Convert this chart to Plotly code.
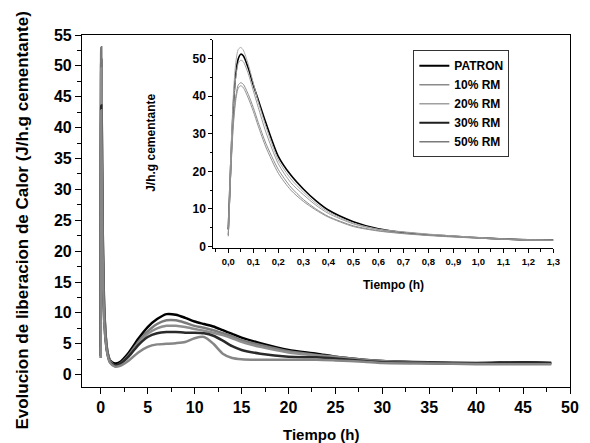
import plotly.graph_objects as go

# ---------------- data ----------------
series_names = ["PATRON", "10% RM", "20% RM", "30% RM", "50% RM"]

# main plot: time (h)
t_main = [0, 0.05, 0.2, 0.4, 0.7, 1.0, 1.5, 2, 3, 4, 5, 6, 7, 8, 9, 10, 11, 12, 13, 14, 15,
          17, 20, 23, 25, 28, 30, 35, 40, 45, 48]
patron_main = [4.5, 51, 24, 9.7, 3.7, 2.3, 1.8, 2.0, 3.6, 5.8, 7.7, 9.0, 9.8, 9.7, 9.2, 8.6, 8.2, 7.8, 7.2, 6.6, 6.0,
               5.1, 4.0, 3.4, 2.9, 2.4, 2.2, 2.0, 1.9, 2.0, 1.9]
rm10_main = [2.7, 53, 23, 9.2, 3.9, 2.2, 1.5, 1.7, 3.2, 5.3, 7.0, 8.2, 8.8, 8.8, 8.4, 7.9, 7.6, 7.2, 6.7, 6.2, 5.6,
             4.8, 3.8, 3.2, 2.9, 2.4, 2.2, 1.9, 1.8, 1.9, 1.8]
rm20_main = [3.0, 49.6, 22, 8.8, 3.8, 2.1, 1.4, 1.6, 3.0, 5.0, 6.6, 7.5, 7.9, 7.9, 7.7, 7.4, 7.1, 6.8, 6.4, 5.9, 5.3,
             4.5, 3.6, 3.1, 2.8, 2.3, 2.1, 1.9, 1.8, 1.9, 1.8]
rm30_main = [3.0, 43.6, 20.5, 8.0, 3.5, 2.0, 1.5, 1.7, 3.0, 4.8, 6.1, 6.7, 6.9, 6.9, 6.8, 6.8, 6.7, 6.3, 5.5, 4.6, 4.0,
             3.4, 2.9, 2.8, 2.6, 2.2, 2.0, 1.9, 1.8, 2.0, 1.9]
rm50_main = [2.7, 42.8, 19.5, 7.8, 3.4, 1.9, 1.3, 1.4, 2.3, 3.6, 4.5, 4.9, 5.0, 5.1, 5.3, 5.9, 6.1, 5.0, 3.4, 2.7, 2.5,
             2.4, 2.4, 2.4, 2.3, 2.1, 1.9, 1.8, 1.7, 1.7, 1.7]

# inset: first 1.3 h
t_inset = [0, 0.01, 0.02, 0.03, 0.04, 0.05, 0.06, 0.08, 0.1, 0.12, 0.15, 0.2, 0.25, 0.3, 0.35, 0.4,
           0.5, 0.6, 0.7, 0.8, 0.9, 1.0, 1.1, 1.2, 1.3]
patron_inset = [4.5, 22, 37, 46, 50, 51.2, 50.8, 47.5, 43, 39, 33, 24, 19, 15.3, 12.2, 9.7,
                6.6, 4.7, 3.7, 3.1, 2.7, 2.3, 2.0, 1.8, 1.8]
rm10_inset = [3, 24, 40, 49, 52.5, 53, 52.3, 48.5, 43.5, 38.5, 32, 23, 18, 14.5, 11.5, 9.2,
              6.2, 4.6, 3.9, 3.3, 2.8, 2.4, 2.0, 1.8, 1.7]
rm20_inset = [3, 22, 37, 45, 48.8, 49.6, 49.2, 46, 41.5, 37, 30.5, 22, 17, 13.8, 11, 8.8,
              6.0, 4.5, 3.8, 3.2, 2.8, 2.3, 2.0, 1.8, 1.7]
rm30_inset = [3, 20, 33, 40, 43, 43.6, 43.2, 40.5, 37, 33, 27.5, 20.5, 15.8, 12.5, 10, 8,
              5.5, 4.2, 3.5, 3.0, 2.6, 2.2, 1.9, 1.7, 1.6]
rm50_inset = [2.7, 19.5, 32, 39, 42.2, 42.8, 42.3, 39.5, 36, 32, 26.5, 19.5, 15, 12, 9.7, 7.8,
              5.3, 4.1, 3.4, 2.9, 2.5, 2.2, 1.9, 1.7, 1.6]

inset_tick_vals = [0.0, 0.1, 0.2, 0.3, 0.4, 0.5, 0.6, 0.7, 0.8, 0.9, 1.0, 1.1, 1.2, 1.3]
inset_tick_text = ["0,0", "0,1", "0,2", "0,3", "0,4", "0,5", "0,6", "0,7", "0,8", "0.,9",
                   "1,0", "1,1", "1,2", "1,3"]

main_values = [patron_main, rm10_main, rm20_main, rm30_main, rm50_main]
inset_values = [patron_inset, rm10_inset, rm20_inset, rm30_inset, rm50_inset]

# ---------------- styles ----------------
main_colors = ["#000000", "#7a7a7a", "#8e8e8e", "#2a2a2a", "#868686"]
inset_colors = ["#000000", "#a8a8a8", "#9a9a9a", "#8a8a8a", "#909090"]
legend_colors = ["#000000", "#8a8a8a", "#a0a0a0", "#1e1e1e", "#7a7a7a"]
FONT = "Arial, Liberation Sans, sans-serif"

fig = go.Figure()

for name, vals, col in zip(series_names, main_values, main_colors):
    fig.add_trace(go.Scatter(x=t_main, y=vals, mode="lines", name=name, showlegend=False,
                             line=dict(color=col, width=2.5, shape="spline", smoothing=0.7),
                             xaxis="x", yaxis="y"))

for i, (name, vals, col) in enumerate(zip(series_names, inset_values, inset_colors)):
    fig.add_trace(go.Scatter(x=t_inset, y=vals, mode="lines", name=name, showlegend=False,
                             line=dict(color=col, width=1.6 if i == 0 else 1, shape="spline", smoothing=0.7),
                             xaxis="x2", yaxis="y2"))

# legend entries (line samples)
for i, (name, col) in enumerate(zip(series_names, legend_colors)):
    fig.add_trace(go.Scatter(x=[None], y=[None], mode="lines", name=name,
                             line=dict(color=col, width=2 if i in (0, 3) else 1.5),
                             xaxis="x2", yaxis="y2"))

fig.update_layout(
    width=590, height=443,
    margin=dict(l=82, r=11, t=35, b=56),
    paper_bgcolor="white", plot_bgcolor="white",
    font=dict(family=FONT, color="black"),
    showlegend=True,
    legend=dict(x=0.679, y=0.957, xanchor="left", yanchor="top",
                bordercolor="#333333", borderwidth=1, bgcolor="white",
                font=dict(size=12, family=FONT, color="black", weight="bold"),
                itemwidth=30, tracegroupgap=0),
    xaxis=dict(domain=[0, 1], range=[-2, 50], showgrid=False, zeroline=False,
               showline=True, linecolor="black", linewidth=1.2, mirror=True,
               ticks="outside", ticklen=6, tickwidth=1.2, tickcolor="black",
               tickvals=list(range(0, 51, 5)),
               tickfont=dict(size=16, family=FONT, weight="bold"),
               minor=dict(ticks="outside", ticklen=4, tickwidth=1, tickcolor="black", dtick=2.5, tick0=0)),
    yaxis=dict(domain=[0, 1], range=[-2, 55], showgrid=False, zeroline=False,
               showline=True, linecolor="black", linewidth=1.2, mirror=True,
               ticks="outside", ticklen=6, tickwidth=1.2, tickcolor="black",
               tickvals=list(range(0, 56, 5)),
               tickfont=dict(size=16, family=FONT, weight="bold"),
               minor=dict(ticks="outside", ticklen=4, tickwidth=1, tickcolor="black", dtick=2.5, tick0=0)),
    xaxis2=dict(domain=[0.269, 0.966], anchor="y2", range=[-0.06, 1.3], showgrid=False, zeroline=False,
                showline=True, linecolor="black", linewidth=1, mirror=False,
                ticks="outside", ticklen=4, tickwidth=1, tickcolor="black",
                tickvals=inset_tick_vals, ticktext=inset_tick_text,
                tickfont=dict(size=9.5, family=FONT, weight="bold"),
                minor=dict(ticks="outside", ticklen=2.5, tickwidth=1, tickcolor="black", dtick=0.05, tick0=0)),
    yaxis2=dict(domain=[0.394, 0.986], anchor="x2", range=[-0.5, 55], showgrid=False, zeroline=False,
                showline=True, linecolor="black", linewidth=1, mirror=False,
                ticks="outside", ticklen=4, tickwidth=1, tickcolor="black",
                tickvals=[0, 10, 20, 30, 40, 50],
                tickfont=dict(size=12, family=FONT, weight="bold"),
                minor=dict(ticks="outside", ticklen=2.5, tickwidth=1, tickcolor="black", dtick=5, tick0=0)),
    annotations=[
        dict(text="Evolucion de liberacion de Calor (J/h.g cementante)", xref="paper", yref="paper",
             x=-0.122, y=0.474, xanchor="center", yanchor="middle", textangle=-90, showarrow=False,
             font=dict(size=17, family=FONT, weight="bold")),
        dict(text="Tiempo (h)", xref="paper", yref="paper", x=0.489, y=-0.136,
             xanchor="center", yanchor="middle", showarrow=False,
             font=dict(size=15, family=FONT, weight="bold")),
        dict(text="J/h.g cementante", xref="paper", yref="paper", x=0.141, y=0.693,
             xanchor="center", yanchor="middle", textangle=-90, showarrow=False,
             font=dict(size=12, family=FONT, weight="bold")),
        dict(text="Tiempo (h)", xref="paper", yref="paper", x=0.639, y=0.29,
             xanchor="center", yanchor="middle", showarrow=False,
             font=dict(size=12, family=FONT, weight="bold")),
    ],
)

fig.write_html("out.html", config={"displayModeBar": False},
               post_script="document.body.style.margin='0px';")
